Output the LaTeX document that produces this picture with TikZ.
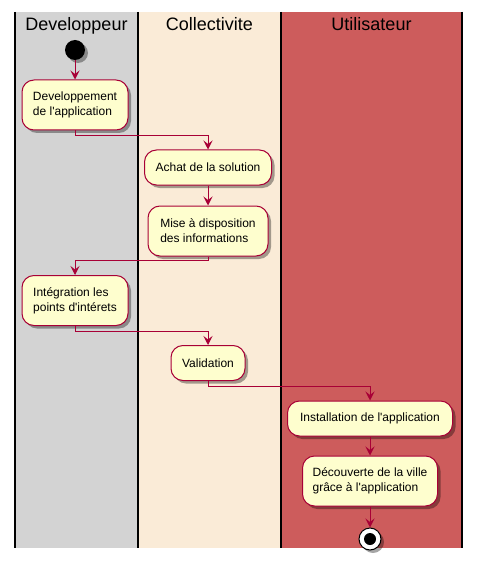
\documentclass[tikz,border=0pt]{standalone}
\usepackage{fontspec}
\setmainfont{Liberation Sans}
\usetikzlibrary{arrows.meta,shadows}

\definecolor{umlred}{HTML}{A80036}
\definecolor{actfill}{HTML}{FEFECE}
\definecolor{lanegray}{HTML}{D3D3D3}
\definecolor{lanebeige}{HTML}{FAEBD7}
\definecolor{lanered}{HTML}{CD5C5C}

\begin{document}
\begin{tikzpicture}[
  x=1pt,y=-1pt,
  lanetitle/.style={anchor=base,font=\fontsize{18}{20}\selectfont},
  activity/.style={draw=umlred,line width=1pt,rounded corners=12pt,fill=actfill,align=left,inner sep=0pt,
    font=\fontsize{12}{15}\selectfont,drop shadow={shadow xshift=3pt,shadow yshift=-3pt,fill=black,opacity=.35}},
  flow/.style={draw=umlred,line width=1pt,-{Stealth[length=9pt,width=9pt,inset=3.5pt]}},
  border/.style={line width=1.5pt}
]
  \useasboundingbox (0,0) rectangle (480,564);

  % swimlanes
  \fill[lanegray] (15,12) rectangle (138,548);
  \fill[lanebeige] (138,12) rectangle (281,548);
  \fill[lanered] (281,12) rectangle (462,548);
  \draw[border] (15,12) -- (15,548) (138,12) -- (138,548)
    (281,12) -- (281,548) (462,12) -- (462,548);

  \node[lanetitle] (devtitle) at (76.5,31) {Developpeur};
  \node[lanetitle] (coltitle) at (209.5,31) {Collectivite};
  \node[lanetitle] (usrtitle) at (371.5,31) {Utilisateur};

  % activities
  \node[circle,fill=black,minimum size=20pt,inner sep=0pt,
    drop shadow={shadow xshift=3pt,shadow yshift=-3pt,fill=black,opacity=.35}] (start) at (75,50) {};
  \node[activity,minimum width=106pt,minimum height=50pt] (dev) at (75,105) {Developpement\\de l\textquotesingle application};
  \node[activity,minimum width=127pt,minimum height=35pt] (achat) at (208,167.5) {Achat de la solution};
  \node[activity,minimum width=120pt,minimum height=50pt] (mise) at (208,231) {Mise à disposition\\des informations};
  \node[activity,minimum width=106pt,minimum height=50pt] (integ) at (75,300.5) {Intégration les\\points d\textquotesingle intérets};
  \node[activity,minimum width=74pt,minimum height=35pt] (valid) at (208,363) {Validation};
  \node[activity,minimum width=165pt,minimum height=35pt] (install) at (370,418.5) {Installation de l\textquotesingle application};
  \node[activity,minimum width=135pt,minimum height=50pt] (decouv) at (370,481) {Découverte de la ville\\grâce à l\textquotesingle application};
  \node[circle,draw=black,fill=white,line width=1pt,minimum size=22pt,inner sep=0pt,
    drop shadow={shadow xshift=3pt,shadow yshift=-3pt,fill=black,opacity=.35}] (stop) at (370,539) {};
  \node[circle,fill=black,minimum size=12pt,inner sep=0pt] (stopdot) at (stop) {};

  % flows
  \draw[flow] (start) -- (dev);
  \draw[flow] (dev.south) -- ++(0,5) -| (achat.north);
  \draw[flow] (achat) -- (mise);
  \draw[flow] (mise.south) -- ++(0,4) -| (integ.north);
  \draw[flow] (integ.south) -- ++(0,5) -| (valid.north);
  \draw[flow] (valid.south) -- ++(0,5) -| (install.north);
  \draw[flow] (install) -- (decouv);
  \draw[flow] (decouv) -- (stop);
\end{tikzpicture}
\end{document}
